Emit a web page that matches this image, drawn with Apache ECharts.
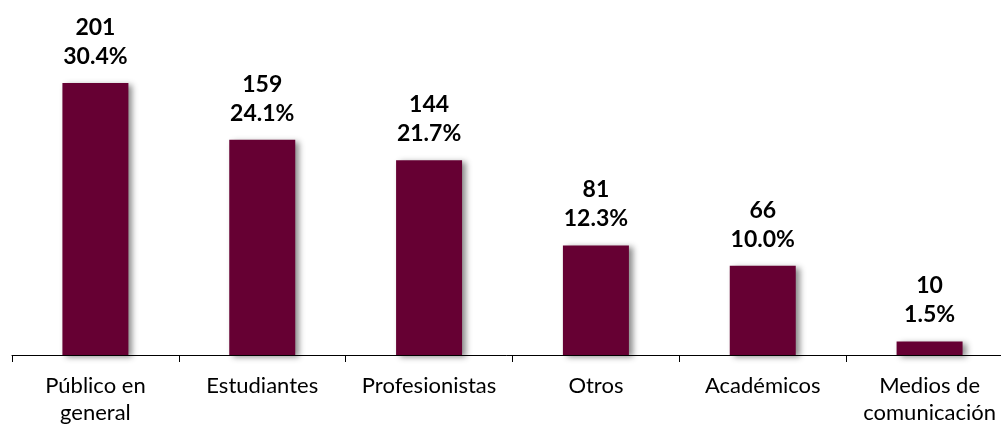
<!DOCTYPE html>
<html>
<head>
<meta charset="utf-8">
<script src="https://cdn.jsdelivr.net/npm/echarts@6/dist/echarts.min.js"></script>
<style>
  html, body { margin: 0; padding: 0; background: #fff; }
  #chart { width: 1001px; height: 424px; }
</style>
</head>
<body>
<div id="chart"></div>
<script>
const categories = ["Público en\ngeneral", "Estudiantes", "Profesionistas", "Otros", "Académicos", "Medios de\ncomunicación"];
const counts = [201, 159, 144, 81, 66, 10];
const percents = ["30.4%", "24.1%", "21.7%", "12.3%", "10.0%", "1.5%"];

const myChart = echarts.init(document.getElementById("chart"));
const option = {
  animation: false,
  grid: {
    left: 12,
    right: -12,
    top: 83,
    bottom: 69,
    outerBoundsMode: "none",
    containLabel: false,
  },
  xAxis: {
    type: "category",
    data: categories,
    axisLine: { lineStyle: { color: "#000", width: 1 } },
    axisTick: { show: true, length: 7, lineStyle: { color: "#000" } },
    axisLabel: {
      color: "#000",
      fontSize: 22,
      fontFamily: "Lato, 'Open Sans', sans-serif",
      lineHeight: 27,
      margin: 17,
      interval: 0,
    },
  },
  yAxis: {
    type: "value",
    min: 0,
    max: 201,
    show: false,
    splitLine: { show: false },
  },
  series: [
    {
      type: "bar",
      data: counts,
      barWidth: 66,
      itemStyle: {
        color: "#660033",
        shadowColor: "rgba(0, 0, 0, 0.45)",
        shadowBlur: 6,
        shadowOffsetX: 4,
        shadowOffsetY: 2,
      },
      label: {
        show: true,
        position: "top",
        distance: 12,
        formatter: (p) => p.value + "\n" + percents[p.dataIndex],
        color: "#000",
        fontSize: 23,
        fontWeight: "bold",
        fontFamily: "Lato, 'Open Sans', sans-serif",
        lineHeight: 29,
      },
    },
  ],
};
myChart.setOption(option);
</script>
</body>
</html>
